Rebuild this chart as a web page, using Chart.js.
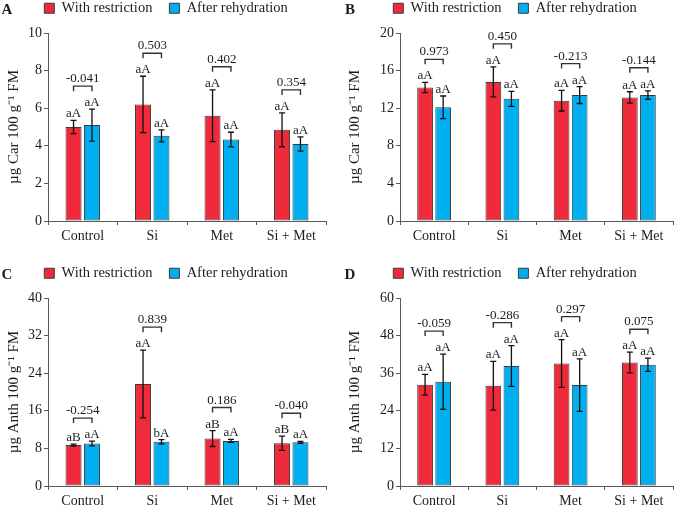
<!DOCTYPE html>
<html><head><meta charset="utf-8">
<script src="https://cdn.jsdelivr.net/npm/chart.js@4.4.0/dist/chart.umd.min.js"></script>
<style>
html,body{margin:0;padding:0;background:#fff;overflow:hidden;width:679px;height:505px;position:relative;}
.p{position:absolute;}
</style></head><body>
<div class="p" style="left:0;top:0;width:340px;height:245px"><canvas id="cA"></canvas></div>
<div class="p" style="left:340px;top:0;width:339px;height:245px"><canvas id="cB"></canvas></div>
<div class="p" style="left:0;top:265px;width:340px;height:245px"><canvas id="cC"></canvas></div>
<div class="p" style="left:340px;top:265px;width:339px;height:245px"><canvas id="cD"></canvas></div>
<script>
// ---- data ----
const categories = ['Control', 'Si', 'Met', 'Si + Met'];
const seriesNames = ['With restriction', 'After rehydration'];

// Panel A: carotenoids (µg Car 100 g-1 FM)
const carWithA = [5.0, 6.2, 5.6, 4.85];
const carWithErrA = [0.35, 1.5, 1.38, 0.9];
const carAfterA = [5.1, 4.53, 4.33, 4.1];
const carAfterErrA = [0.85, 0.32, 0.39, 0.38];
const lettersWithA = ['aA', 'aA', 'aA', 'aA'];
const lettersAfterA = ['aA', 'aA', 'aA', 'aA'];
const corrA = ['-0.041', '0.503', '0.402', '0.354'];

// Panel B: carotenoids
const carWithB = [14.2, 14.8, 12.8, 13.15];
const carWithErrB = [0.55, 1.6, 1.1, 0.6];
const carAfterB = [12.1, 13.0, 13.4, 13.4];
const carAfterErrB = [1.2, 0.8, 0.9, 0.45];
const lettersWithB = ['aA', 'aA', 'aA', 'aA'];
const lettersAfterB = ['aA', 'aA', 'aA', 'aA'];
const corrB = ['0.973', '0.450', '-0.213', '-0.144'];

// Panel C: anthocyanins (µg Anth 100 g-1 FM)
const anthWithC = [8.7, 21.7, 10.1, 9.1];
const anthWithErrC = [0.2, 7.2, 1.7, 1.5];
const anthAfterC = [9.05, 9.4, 9.6, 9.3];
const anthAfterErrC = [0.5, 0.45, 0.3, 0.2];
const lettersWithC = ['aB', 'aA', 'aB', 'aB'];
const lettersAfterC = ['aA', 'bA', 'aA', 'aA'];
const corrC = ['-0.254', '0.839', '0.186', '-0.040'];

// Panel D: anthocyanins
const anthWithD = [32.3, 32.0, 39.1, 39.4];
const anthWithErrD = [3.3, 7.8, 7.6, 3.3];
const anthAfterD = [33.3, 38.3, 32.2, 38.7];
const anthAfterErrD = [8.8, 6.5, 8.4, 2.1];
const lettersWithD = ['aA', 'aA', 'aA', 'aA'];
const lettersAfterD = ['aA', 'aA', 'aA', 'aA'];
const corrD = ['-0.059', '-0.286', '0.297', '0.075'];

const yTicksA = [0, 10, 2];
const yTicksB = [0, 20, 4];
const yTicksC = [0, 40, 8];
const yTicksD = [0, 60, 12];

// ---- styling ----
const RED = '#EF2B3B', BLUE = '#00AFEF', EDGE = '#3a3a3a', AXIS = '#5a5a5a', TXT = '#1c1c1c';
const SERIF = '"Liberation Serif", "Times New Roman", serif';

function makeChart(cfg) {
  const annot = {
    id: 'annot' + cfg.tag,
    beforeLayout(chart) {
      const lg = chart.legend;
      if (lg && !lg._patched) {
        const f = lg.fit;
        lg.fit = function () { f.call(this); this.height = cfg.legendH; };
        lg._patched = true;
      }
    },
    afterDatasetsDraw(chart) {
      const ctx = chart.ctx, ys = chart.scales.y;
      const means = [cfg.m0, cfg.m1], errs = [cfg.e0, cfg.e1], lets = [cfg.l0, cfg.l1];
      ctx.save();
      // error bars
      ctx.strokeStyle = '#111'; ctx.lineWidth = 1.3;
      for (let d = 0; d < 2; d++) {
        const meta = chart.getDatasetMeta(d);
        meta.data.forEach((bar, j) => {
          const yt = ys.getPixelForValue(means[d][j] + errs[d][j]);
          const yb = ys.getPixelForValue(means[d][j] - errs[d][j]);
          ctx.beginPath();
          ctx.moveTo(bar.x, yt); ctx.lineTo(bar.x, yb);
          ctx.moveTo(bar.x - 3, yt); ctx.lineTo(bar.x + 3, yt);
          ctx.moveTo(bar.x - 3, yb); ctx.lineTo(bar.x + 3, yb);
          ctx.stroke();
        });
      }
      // letters
      ctx.fillStyle = TXT; ctx.font = '13px ' + SERIF;
      ctx.textAlign = 'center'; ctx.textBaseline = 'alphabetic';
      for (let d = 0; d < 2; d++) {
        const meta = chart.getDatasetMeta(d);
        meta.data.forEach((bar, j) => {
          const yt = ys.getPixelForValue(means[d][j] + errs[d][j]);
          ctx.fillText(lets[d][j], bar.x, yt - 3);
        });
      }
      // brackets + correlation values
      const m0 = chart.getDatasetMeta(0), m1 = chart.getDatasetMeta(1);
      ctx.strokeStyle = '#333'; ctx.lineWidth = 1.4;
      categories.forEach((c, j) => {
        const x1 = m0.data[j].x, x2 = m1.data[j].x;
        const t = Math.min(ys.getPixelForValue(means[0][j] + errs[0][j]), ys.getPixelForValue(means[1][j] + errs[1][j]));
        const yb = t - 23;
        ctx.beginPath();
        ctx.moveTo(x1, yb + 5); ctx.lineTo(x1, yb); ctx.lineTo(x2, yb); ctx.lineTo(x2, yb + 5);
        ctx.stroke();
        ctx.fillText(cfg.corr[j], (x1 + x2) / 2, yb - 4);
      });
      ctx.restore();
    },
    afterDraw(chart) {
      const ctx = chart.ctx;
      ctx.save();
      ctx.fillStyle = TXT; ctx.font = 'bold 15px ' + SERIF;
      ctx.textAlign = 'center'; ctx.textBaseline = 'middle';
      ctx.fillText(cfg.tag, cfg.tagX, 10);
      ctx.restore();
    }
  };

  return new Chart(document.getElementById(cfg.id), {
    type: 'bar',
    data: {
      labels: categories,
      datasets: [
        { label: seriesNames[0], data: cfg.m0, backgroundColor: RED, borderColor: EDGE, borderWidth: 1, borderSkipped: false },
        { label: seriesNames[1], data: cfg.m1, backgroundColor: BLUE, borderColor: EDGE, borderWidth: 1, borderSkipped: false }
      ]
    },
    options: {
      responsive: true, maintainAspectRatio: false, animation: false,
      categoryPercentage: 0.53, barPercentage: 0.87,
      layout: { padding: { top: -16, left: cfg.padL, right: cfg.padR, bottom: 0 } },
      plugins: {
        tooltip: { enabled: false },
        legend: {
          position: 'top',
          labels: { boxWidth: 10, boxHeight: 10, padding: 17, color: TXT, font: { family: SERIF, size: 14.5 } }
        }
      },
      scales: {
        x: {
          offset: true,
          grid: { display: true, drawOnChartArea: false, drawTicks: true, tickLength: 4, color: AXIS, offset: true },
          border: { display: true, color: AXIS, width: 1 },
          ticks: { color: TXT, font: { family: SERIF, size: 14 }, padding: 3, maxRotation: 0 },
          afterFit: s => { s.height = 24; }
        },
        y: {
          min: cfg.yt[0], max: cfg.yt[1],
          grid: { display: true, drawOnChartArea: false, drawTicks: true, tickLength: 4, color: AXIS },
          border: { display: true, color: AXIS, width: 1 },
          ticks: { stepSize: cfg.yt[2], color: TXT, font: { family: SERIF, size: 14 }, padding: 2 },
          title: { display: true, text: cfg.title, color: TXT, font: { family: SERIF, size: 15 }, padding: { top: cfg.titlePad, bottom: 0 } },
          afterFit: s => { s.width = cfg.yW; }
        }
      }
    },
    plugins: [annot]
  });
}

makeChart({ id: 'cA', tag: 'A', tagX: 7, title: 'µg Car 100 g⁻¹ FM', yt: yTicksA,
  m0: carWithA, e0: carWithErrA, m1: carAfterA, e1: carAfterErrA, l0: lettersWithA, l1: lettersAfterA, corr: corrA,
  padL: 6, padR: 14, yW: 42, titlePad: -1, legendH: 49 });
makeChart({ id: 'cB', tag: 'B', tagX: 10, title: 'µg Car 100 g⁻¹ FM', yt: yTicksB,
  m0: carWithB, e0: carWithErrB, m1: carAfterB, e1: carAfterErrB, l0: lettersWithB, l1: lettersAfterB, corr: corrB,
  padL: 17, padR: 6, yW: 43, titlePad: -11, legendH: 49 });
makeChart({ id: 'cC', tag: 'C', tagX: 7, title: 'µg Anth 100 g⁻¹ FM', yt: yTicksC,
  m0: anthWithC, e0: anthWithErrC, m1: anthAfterC, e1: anthAfterErrC, l0: lettersWithC, l1: lettersAfterC, corr: corrC,
  padL: 6, padR: 14, yW: 42, titlePad: -1, legendH: 49 });
makeChart({ id: 'cD', tag: 'D', tagX: 10, title: 'µg Anth 100 g⁻¹ FM', yt: yTicksD,
  m0: anthWithD, e0: anthWithErrD, m1: anthAfterD, e1: anthAfterErrD, l0: lettersWithD, l1: lettersAfterD, corr: corrD,
  padL: 17, padR: 6, yW: 43, titlePad: -11, legendH: 49 });
</script>
</body></html>
